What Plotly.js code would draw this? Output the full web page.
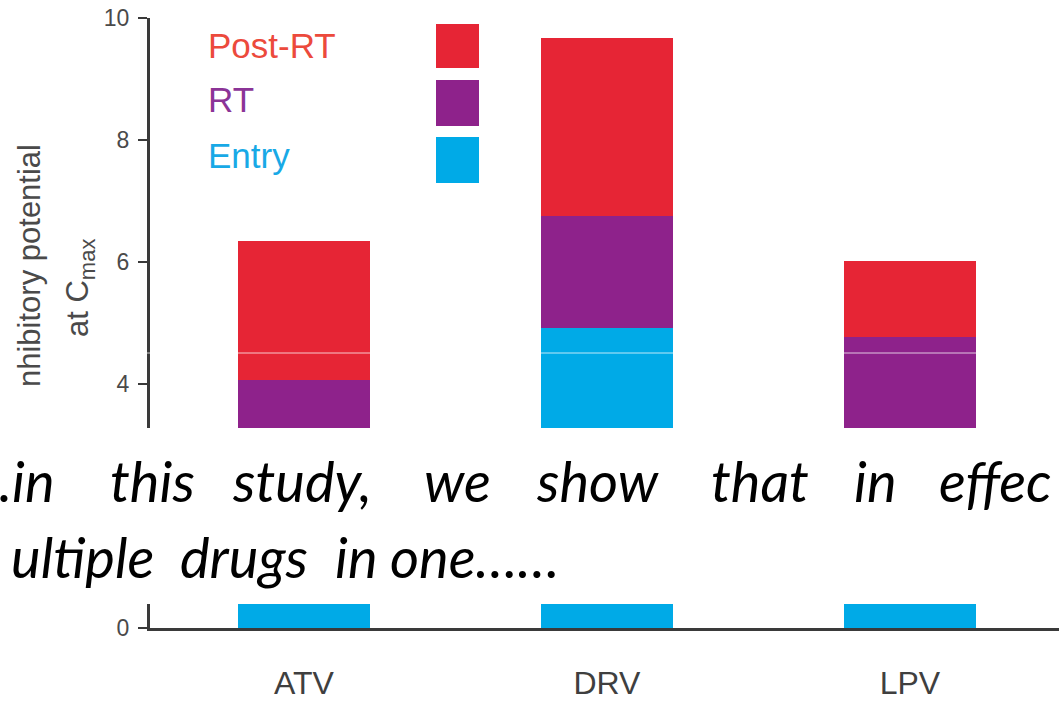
<!DOCTYPE html>
<html>
<head>
<meta charset="utf-8">
<script src="https://cdn.plot.ly/plotly-3.0.1.min.js"></script>
<style>html,body{margin:0;padding:0;background:#fff;}#chart{width:1059px;height:703px;}</style>
</head>
<body>
<div id="chart"></div>
<script>
// ---- data ----
const categories = ["ATV", "DRV", "LPV"];
const entryValues = [2.1, 4.92, 2.6];
const rtValues = [1.97, 1.83, 2.17];
const postRtValues = [2.28, 2.92, 1.25];
const seriesNames = ["Entry", "RT", "Post-RT"];
const yTickVals = [0, 2, 4, 6, 8, 10];
const yTickText = ["0", "", "4", "6", "8", "10"]; // "2" is hidden behind the text band in the reference
const legendLabels = ["Post-RT", "RT", "Entry"];
const overlayLine1 = [".in", "this", "study,", "we", "show", "that", "in", "effec"];
const overlayLine2 = ["ultiple", "drugs", "in", "one……"];

// ---- styles ----
const colors = {"Entry": "#00AAE7", "RT": "#8E228B", "Post-RT": "#E62535"};
const textColors = {"Post-RT": "#EC4A3C", "RT": "#8B3497", "Entry": "#18A9E6"};
const W = 1059, H = 703;
const M = {l: 150, r: 0, t: 18, b: 75};
const PW = W - M.l - M.r, PH = H - M.t - M.b;
const px = x => (x - M.l) / PW;
const py = y => (H - M.b - y) / PH;

const valuesBySeries = {"Entry": entryValues, "RT": rtValues, "Post-RT": postRtValues};
const traces = seriesNames.map(name => ({
  type: "bar",
  name: name,
  x: categories,
  y: valuesBySeries[name],
  width: 0.436,
  marker: {color: colors[name], line: {width: 0}},
  hoverinfo: "x+y+name"
}));

const annotations = [];
const shapes = [];

// legend (text left, swatch right)
const legendTextY = [45, 99, 155];
const swatchY = [[24, 68], [80, 126], [137, 183]];
legendLabels.forEach((lab, i) => {
  annotations.push({
    xref: "paper", yref: "paper", x: px(206), y: py(legendTextY[i]),
    xanchor: "left", yanchor: "middle", showarrow: false, text: lab,
    font: {family: "Liberation Sans, Arial, sans-serif", size: 35, color: textColors[lab]}
  });
  shapes.push({
    type: "rect", xref: "paper", yref: "paper", layer: "above",
    x0: px(436), x1: px(479), y0: py(swatchY[i][1]), y1: py(swatchY[i][0]),
    fillcolor: colors[lab], line: {width: 0}
  });
});

// y-axis title (rotated)
annotations.push({
  xref: "paper", yref: "paper", x: px(29), y: py(266), xanchor: "center", yanchor: "middle",
  textangle: -90, showarrow: false, text: "nhibitory potential",
  font: {family: "Liberation Sans, Arial, sans-serif", size: 31, color: "#4a4a4a"}
});
annotations.push({
  xref: "paper", yref: "paper", x: px(80), y: py(288), xanchor: "center", yanchor: "middle",
  textangle: -90, showarrow: false, text: "at C<sub><span style=\"font-size:22px\">max</span></sub>",
  font: {family: "Liberation Sans, Arial, sans-serif", size: 31, color: "#4a4a4a"}
});

// thin white artifact line
shapes.push({
  type: "line", xref: "paper", yref: "paper", layer: "above",
  x0: px(0), x1: px(W), y0: py(353), y1: py(353),
  line: {color: "rgba(255,255,255,0.75)", width: 1}
});

// white overlay band
shapes.push({
  type: "rect", xref: "paper", yref: "paper", layer: "above",
  x0: px(-5), x1: px(W + 5), y0: py(604), y1: py(428),
  fillcolor: "#ffffff", line: {width: 0}
});

// overlay text
const line1X = [-3, 108, 230, 422, 534, 709, 852, 937];
const line2X = [9, 178, 333, 388];
const overlayFont = {family: "Lato, Open Sans, sans-serif", size: 56, color: "#000000"};
overlayLine1.forEach((w, i) => {
  annotations.push({
    xref: "paper", yref: "paper", x: px(line1X[i]), y: py(480),
    xanchor: "left", yanchor: "middle", showarrow: false,
    text: "<i>" + w + "</i>", font: overlayFont
  });
});
overlayLine2.forEach((w, i) => {
  annotations.push({
    xref: "paper", yref: "paper", x: px(line2X[i]), y: py(556),
    xanchor: "left", yanchor: "middle", showarrow: false,
    text: "<i>" + w + "</i>", font: overlayFont
  });
});

const layout = {
  width: W, height: H,
  margin: M,
  paper_bgcolor: "#ffffff", plot_bgcolor: "#ffffff",
  barmode: "stack",
  showlegend: false,
  xaxis: {
    type: "category", range: [-0.508, 2.492],
    showline: true, linecolor: "#3a3a3a", linewidth: 3,
    ticks: "", showgrid: false, zeroline: false,
    ticklabelstandoff: 25,
    tickfont: {family: "Liberation Sans, Arial, sans-serif", size: 32, color: "#3f3f3f"}
  },
  yaxis: {
    range: [0, 10], tickvals: yTickVals, ticktext: yTickText,
    showline: true, linecolor: "#3a3a3a", linewidth: 3,
    ticks: "outside", ticklen: 9, tickwidth: 2.5, tickcolor: "#3a3a3a",
    showgrid: false, zeroline: false,
    ticklabelstandoff: 4,
    tickfont: {family: "Liberation Sans, Arial, sans-serif", size: 23, color: "#4a4a4a"}
  },
  shapes: shapes,
  annotations: annotations
};

Plotly.newPlot("chart", traces, layout, {displayModeBar: false, staticPlot: true});
</script>
</body>
</html>
